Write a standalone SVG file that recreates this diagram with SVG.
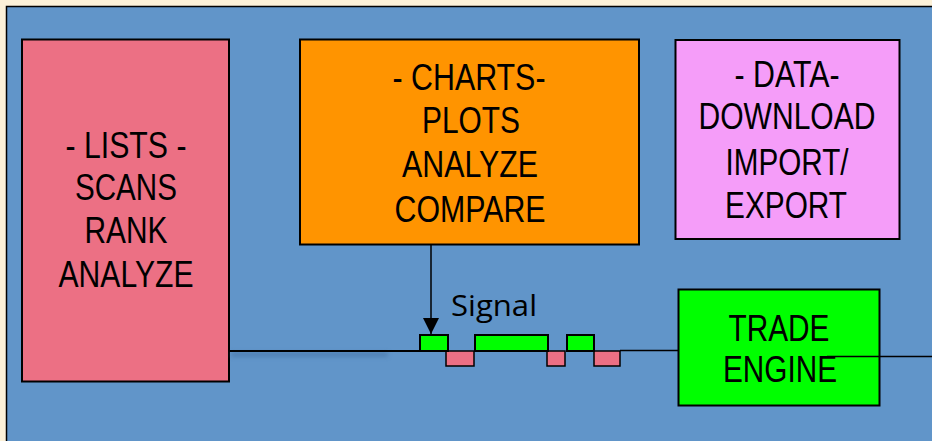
<svg xmlns="http://www.w3.org/2000/svg" width="932" height="441" viewBox="0 0 932 441">
<defs>
<style>
.box{stroke:#000;stroke-width:2}
.t{font-family:"Liberation Sans",Arial,sans-serif;font-size:37px;fill:#000;text-anchor:middle}
.wire{stroke:#000;stroke-width:2;fill:none}
.hi{fill:#00ff00;stroke:#000;stroke-width:2}
.lo{fill:#ec7084;stroke:#000;stroke-width:1.5}
</style>
<marker id="arr" viewBox="0 0 10 10" refX="10" refY="5" markerWidth="16" markerHeight="16" markerUnits="userSpaceOnUse" orient="auto">
<path d="M0,0 L10,5 L0,10 z" fill="#000"/>
</marker>
<filter id="sh" x="-10%" y="-200%" width="120%" height="500%"><feGaussianBlur stdDeviation="2"/></filter>
</defs>
<rect x="0" y="0" width="932" height="441" fill="#fcf1d8"/>
<rect x="6.5" y="6.5" width="940" height="450" fill="#6195c9" stroke="#000" stroke-width="1.5"/>

<g id="lists">
<rect class="box" x="22" y="39.5" width="207" height="342" fill="#ec7084"/>
<text class="t" x="126" y="158" textLength="121" lengthAdjust="spacingAndGlyphs">- LISTS -</text>
<text class="t" x="126" y="200" textLength="102" lengthAdjust="spacingAndGlyphs">SCANS</text>
<text class="t" x="126" y="243" textLength="83" lengthAdjust="spacingAndGlyphs">RANK</text>
<text class="t" x="126" y="287" textLength="135" lengthAdjust="spacingAndGlyphs">ANALYZE</text>
</g>

<g id="charts">
<rect class="box" x="300" y="39.5" width="339" height="205" fill="#ff9400"/>
<text class="t" x="469" y="90" textLength="153" lengthAdjust="spacingAndGlyphs">- CHARTS-</text>
<text class="t" x="471" y="133" textLength="98" lengthAdjust="spacingAndGlyphs">PLOTS</text>
<text class="t" x="470" y="177" textLength="136" lengthAdjust="spacingAndGlyphs">ANALYZE</text>
<text class="t" x="470" y="222" textLength="151" lengthAdjust="spacingAndGlyphs">COMPARE</text>
</g>

<g id="data">
<rect class="box" x="675.5" y="40" width="224" height="199" fill="#f59df9"/>
<text class="t" x="787" y="87" textLength="105" lengthAdjust="spacingAndGlyphs">- DATA-</text>
<text class="t" x="787" y="129" textLength="177" lengthAdjust="spacingAndGlyphs">DOWNLOAD</text>
<text class="t" x="787" y="175" textLength="123" lengthAdjust="spacingAndGlyphs">IMPORT/</text>
<text class="t" x="786" y="218" textLength="122" lengthAdjust="spacingAndGlyphs">EXPORT</text>
</g>

<g id="signal">
<rect class="lo" x="446" y="351" width="28" height="15"/>
<rect class="lo" x="547" y="351" width="18" height="15"/>
<rect class="lo" x="594" y="351" width="26" height="15"/>
<rect class="hi" x="420" y="335" width="28" height="16"/>
<rect class="hi" x="475" y="335" width="73" height="16"/>
<rect class="hi" x="567" y="335" width="27" height="16"/>
<text x="451" y="316" font-family="'Open Sans','Noto Sans',sans-serif" font-size="30" fill="#000" textLength="86" lengthAdjust="spacingAndGlyphs">Signal</text>
</g>

<g id="engine">
<rect class="box" x="678.5" y="289.5" width="201" height="116" fill="#00ff00"/>
<text class="t" x="779" y="341" textLength="101" lengthAdjust="spacingAndGlyphs">TRADE</text>
<text class="t" x="780" y="382" textLength="114" lengthAdjust="spacingAndGlyphs">ENGINE</text>
</g>

<g id="connectors">
<rect x="231" y="352" width="157" height="5" fill="#3f6d9c" opacity="0.5" filter="url(#sh)"/>
<line class="wire" x1="229" y1="351" x2="421" y2="351"/>
<line x1="620" y1="350.5" x2="679" y2="350.5" stroke="#000" stroke-width="1.5"/>
<line x1="431" y1="245" x2="431" y2="334" stroke="#000" stroke-width="1.5" marker-end="url(#arr)"/>
<line x1="827" y1="356.5" x2="932" y2="356.5" stroke="#000" stroke-width="1.5"/>
</g>
</svg>
